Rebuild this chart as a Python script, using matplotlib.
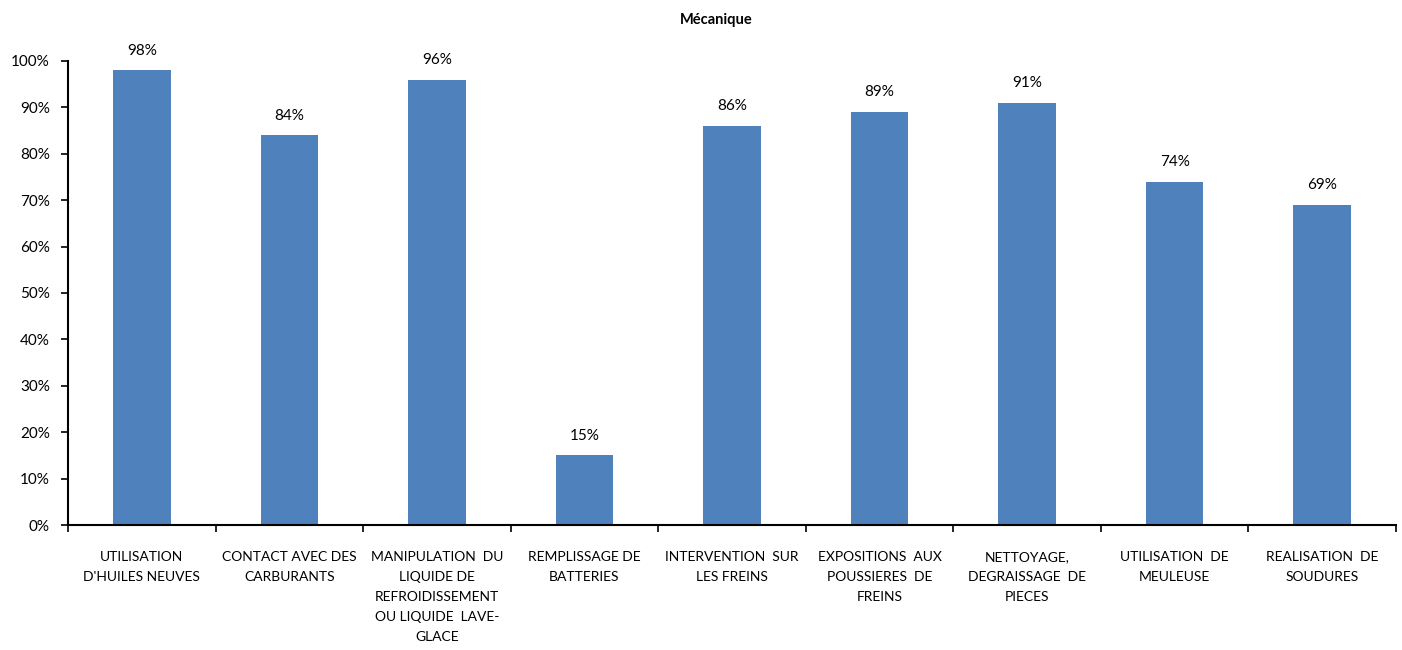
import numpy as np
import matplotlib.pyplot as plt
from matplotlib.ticker import PercentFormatter

plt.rcParams['font.family'] = ['Lato', 'DejaVu Sans']

categories = [
    "UTILISATION\nD'HUILES NEUVES",
    "CONTACT AVEC DES\nCARBURANTS",
    "MANIPULATION  DU\nLIQUIDE DE\nREFROIDISSEMENT\nOU LIQUIDE  LAVE-\nGLACE",
    "REMPLISSAGE DE\nBATTERIES",
    "INTERVENTION  SUR\nLES FREINS",
    "EXPOSITIONS  AUX\nPOUSSIERES  DE\nFREINS",
    "NETTOYAGE,\nDEGRAISSAGE  DE\nPIECES",
    "UTILISATION  DE\nMEULEUSE",
    "REALISATION  DE\nSOUDURES",
]
values = [0.98, 0.84, 0.96, 0.15, 0.86, 0.89, 0.91, 0.74, 0.69]
value_labels = ["98%", "84%", "96%", "15%", "86%", "89%", "91%", "74%", "69%"]

fig = plt.figure(figsize=(14.02, 6.5), dpi=100)
ax = fig.add_axes([0.0485, 0.1923, 0.9472, 0.7139])

x = np.arange(len(values))
ax.bar(x, values, width=0.39, color='#4F81BD')

for xi, v, lab in zip(x, values, value_labels):
    ax.text(xi, v + 0.027, lab, ha='center', va='bottom', fontsize=11)

ax.set_xlim(-0.5, len(values) - 0.5)
ax.set_ylim(0, 1.0)
ax.set_yticks(np.arange(0, 1.01, 0.1))
ax.yaxis.set_major_formatter(PercentFormatter(1.0, decimals=0))

ax.set_xticks(x)
ax.set_xticklabels(categories, fontsize=10, linespacing=1.8, va='top')
ax.tick_params(axis='x', which='major', length=0, pad=19)
ax.set_xticks(np.arange(-0.5, len(values), 1.0), minor=True)
ax.tick_params(axis='x', which='minor', length=5, width=1.2, direction='out')
ax.tick_params(axis='y', length=5, width=1.2, direction='out', labelsize=11, pad=8)

for s in ['top', 'right']:
    ax.spines[s].set_visible(False)
for s in ['left', 'bottom']:
    ax.spines[s].set_linewidth(1.5)

fig.text(0.511, 0.969, "Mécanique", ha='center', va='center', fontsize=10.5, fontweight='bold')

fig.savefig("out.png", dpi=100)
